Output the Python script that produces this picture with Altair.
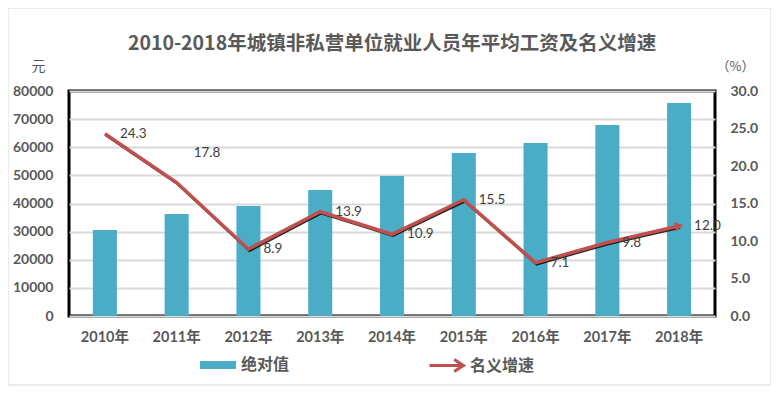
import altair as alt
import pandas as pd

years = ["2010年", "2011年", "2012年", "2013年", "2014年", "2015年", "2016年", "2017年", "2018年"]
wages = [30600, 36300, 39100, 44800, 49800, 58000, 61500, 67900, 75700]
growth = [24.3, 17.8, 8.9, 13.9, 10.9, 15.5, 7.1, 9.8, 12.0]
bar_name = "绝对值"
line_name = "名义增速"
title_text = "2010-2018年城镇非私营单位就业人员年平均工资及名义增速"
left_ticks = [0, 10000, 20000, 30000, 40000, 50000, 60000, 70000, 80000]
right_ticks = [0, 5, 10, 15, 20, 25, 30]

df = pd.DataFrame({"year": years, "wage": wages, "growth": growth,
                   "s1": bar_name, "s2": line_name})

FONT = "Lato, Noto Sans CJK SC"
CJK = "Noto Sans CJK SC"
GRAY = "#595959"
BAR = "#4BACC6"
RED = "#C0504D"

x = alt.X("year:N", sort=years,
          scale=alt.Scale(paddingInner=0.665, paddingOuter=0.3325),
          axis=alt.Axis(title=None, labelAngle=0, ticks=False, domain=False,
                        labelPadding=14, labelFontSize=14.5, labelFontWeight="bold",
                        labelColor=GRAY, labelFont=FONT))

y_left = alt.Y("wage:Q", scale=alt.Scale(domain=[0, 80000]),
               axis=alt.Axis(values=left_ticks, format="d", title="元", titleAngle=0,
                             titleX=-31, titleY=-25, titleAlign="center",
                             titleBaseline="middle", titleFont=CJK, titleFontSize=14,
                             titleFontWeight="normal", titleColor=GRAY,
                             grid=True, gridColor="#D9D9D9", gridWidth=1.8,
                             ticks=False, domain=False, labelPadding=16,
                             labelFont=FONT, labelFontSize=14, labelFontWeight="bold",
                             labelColor=GRAY))

y_right = alt.Y("growth:Q", scale=alt.Scale(domain=[0, 30]),
                axis=alt.Axis(orient="right", values=right_ticks, format=".1f",
                              title="（%）", titleAngle=0, titleX=20, titleY=-25,
                              titleAlign="center", titleBaseline="middle",
                              titleFont=CJK, titleFontSize=13, titleFontWeight="normal",
                              titleColor=GRAY, grid=False, ticks=False, domain=False,
                              labelPadding=15, labelFont=FONT, labelFontSize=14,
                              labelFontWeight="bold", labelColor=GRAY))

base = alt.Chart(df)

bars = base.mark_bar().encode(
    x=x, y=y_left,
    fill=alt.Fill("s1:N", scale=alt.Scale(range=[BAR]),
                  legend=alt.Legend(title=None, orient="none", legendX=131, legendY=256,
                                    symbolType="M-1,-0.22L1,-0.22L1,0.22L-1,0.22Z",
                                    symbolSize=1296, symbolStrokeWidth=0,
                                    labelFont=CJK, labelFontSize=16, labelFontWeight="bold",
                                    labelColor=GRAY, labelOffset=5, padding=0)))

shadow = base.mark_line(color="black", strokeWidth=2.5, xOffset=1, yOffset=1.5,
                        opacity=0.85).encode(x=x, y=y_right)

line = base.mark_line(strokeWidth=3.5).encode(
    x=x, y=y_right,
    stroke=alt.Stroke("s2:N", scale=alt.Scale(range=[RED]),
                      legend=alt.Legend(title=None, orient="none", legendX=359, legendY=256,
                                        symbolType="M-1,0L0.9,0M0.45,-0.35L1,0L0.45,0.35",
                                        symbolSize=1156, symbolStrokeWidth=3,
                                        labelFont=CJK, labelFontSize=16, labelFontWeight="bold",
                                        labelColor=GRAY, labelOffset=5, padding=0)))

arrow = base.transform_filter(alt.datum.year == years[-1]).mark_point(
    shape="triangle-right", filled=True, color=RED, size=90, angle=347, opacity=1
).encode(x=x, y=y_right)

labels_main = base.transform_filter(alt.datum.year != years[1]).mark_text(
    align="left", baseline="middle", dx=15, font=FONT, fontSize=13.5, color="#404040"
).encode(x=x, y=y_right, text=alt.Text("growth:Q", format=".1f"))

labels_up = base.transform_filter(alt.datum.year == years[1]).mark_text(
    align="left", baseline="middle", dx=17, dy=-30, font=FONT, fontSize=13.5, color="#404040"
).encode(x=x, y=y_right, text=alt.Text("growth:Q", format=".1f"))

frame = alt.Chart(pd.DataFrame({"a": [0]})).mark_rect(
    fill="transparent", stroke="#D9D9D9", strokeWidth=1
).encode(x=alt.value(-61), x2=alt.value(702), y=alt.value(-83), y2=alt.value(294))

right_layer = alt.layer(shadow, line, arrow, labels_main, labels_up)

chart = alt.layer(frame, bars, right_layer).resolve_scale(
    y="independent"
).properties(
    width=646, height=225,
    autosize=alt.AutoSizeParams(type="none"),
    padding={"left": 61, "top": 83, "right": 56, "bottom": 70},
    background="white",
    title=alt.Title(title_text, anchor="middle", fontSize=19.5, font=CJK,
                    fontWeight="bold", color=GRAY, offset=4, dy=51),
).configure_view(stroke="black", strokeWidth=3)

chart.save("out.html", embed_options={"renderer": "svg", "actions": False})
